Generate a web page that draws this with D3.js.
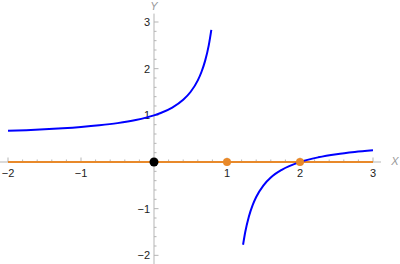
<!DOCTYPE html>
<html><head><meta charset="utf-8">
<script src="https://cdn.jsdelivr.net/npm/d3@7"></script>
<style>html,body{margin:0;padding:0;background:#fff;}svg{display:block;}</style>
</head><body><svg id="c" width="400" height="264"></svg>
<script>
// Data
const leftX = [-2, -1.75, -1.5, -1.25, -1, -0.75, -0.5, -0.25, 0, 0.1, 0.25, 0.4, 0.5, 0.6, 0.65, 0.7, 0.75, 0.785];
const leftY = [0.667, 0.682, 0.7, 0.722, 0.75, 0.786, 0.833, 0.9, 1, 1.056, 1.167, 1.333, 1.5, 1.75, 1.929, 2.167, 2.5, 2.83];
const rightX = [1.22, 1.25, 1.3, 1.35, 1.4, 1.5, 1.6, 1.75, 2, 2.25, 2.5, 2.75, 3];
const rightY = [-1.773, -1.5, -1.167, -0.929, -0.75, -0.5, -0.333, -0.167, 0, 0.1, 0.167, 0.214, 0.25];
const segmentX = [-2, 3];
const orangePointsX = [1, 2];
const blackPointX = [0];
const xTicks = [-2, -1, 1, 2, 3];
const yTicks = [-2, -1, 1, 2, 3];
const xLabel = "X", yLabel = "Y";

const svg = d3.select("#c");
const x = d3.scaleLinear().domain([-2, 3]).range([8, 373]);
const y = d3.scaleLinear().domain([0, 3]).range([162, 22]);
const axisCol = "#b5b5b5";
const orange = "#e8892a";

// axes lines
svg.append("line").attr("x1", 0).attr("x2", x(3.11)).attr("y1", y(0)).attr("y2", y(0))
  .attr("stroke", axisCol).attr("stroke-width", 1);
svg.append("line").attr("x1", x(0)).attr("x2", x(0)).attr("y1", y(3.18)).attr("y2", 264)
  .attr("stroke", axisCol).attr("stroke-width", 1);

// ticks (minor every 0.2)
const xMinor = d3.range(-2, 3.001, 0.2).map(v => +v.toFixed(2)).filter(v => Math.abs(v) > 1e-9);
svg.append("g").selectAll("line").data(xMinor).join("line")
  .attr("x1", d => x(d)).attr("x2", d => x(d))
  .attr("y1", y(0)).attr("y2", d => y(0) - (Math.abs(d - Math.round(d)) < 1e-9 ? 4.5 : 2.5))
  .attr("stroke", axisCol);
const yMinor = d3.range(-2, 3.001, 0.2).map(v => +v.toFixed(2)).filter(v => Math.abs(v) > 1e-9);
svg.append("g").selectAll("line").data(yMinor).join("line")
  .attr("y1", d => y(d)).attr("y2", d => y(d))
  .attr("x1", x(0)).attr("x2", d => x(0) + (Math.abs(d - Math.round(d)) < 1e-9 ? 4.5 : 2.5))
  .attr("stroke", axisCol);

const fmt = d => d < 0 ? "\u2212" + Math.abs(d) : String(d);
svg.append("g").selectAll("text").data(xTicks).join("text")
  .attr("x", d => x(d)).attr("y", y(0) + 15)
  .attr("text-anchor", "middle").attr("font-family", "Liberation Sans, Arial, sans-serif")
  .attr("font-size", 11).attr("fill", "#222").text(fmt);
svg.append("g").selectAll("text").data(yTicks).join("text")
  .attr("x", x(0) - 4).attr("y", d => y(d) + 4)
  .attr("text-anchor", "end").attr("font-family", "Liberation Sans, Arial, sans-serif")
  .attr("font-size", 11).attr("fill", "#222").text(fmt);

svg.append("text").attr("x", 395).attr("y", y(0) + 3).attr("text-anchor", "middle")
  .attr("font-family", "Liberation Sans, Arial, sans-serif").attr("font-style", "italic")
  .attr("font-size", 11).attr("fill", "#999").text(xLabel);
svg.append("text").attr("x", x(0)).attr("y", 10).attr("text-anchor", "middle")
  .attr("font-family", "Liberation Sans, Arial, sans-serif").attr("font-style", "italic")
  .attr("font-size", 11).attr("fill", "#999").text(yLabel);

// orange segment along the x axis
svg.append("line").attr("x1", x(segmentX[0])).attr("x2", x(segmentX[1]))
  .attr("y1", y(0)).attr("y2", y(0)).attr("stroke", orange).attr("stroke-width", 2);

// blue curve branches
const ln = d3.line().x(d => x(d[0])).y(d => y(d[1])).curve(d3.curveMonotoneX);
[[leftX, leftY], [rightX, rightY]].forEach(([xs, ys]) => {
  svg.append("path").datum(xs.map((v, i) => [v, ys[i]]))
    .attr("d", ln).attr("fill", "none").attr("stroke", "#0000ff").attr("stroke-width", 2);
});

// points
svg.append("g").selectAll("circle").data(orangePointsX).join("circle")
  .attr("cx", d => x(d)).attr("cy", y(0)).attr("r", 4).attr("fill", orange);
svg.append("g").selectAll("circle").data(blackPointX).join("circle")
  .attr("cx", d => x(d)).attr("cy", y(0)).attr("r", 4.5).attr("fill", "#000");
</script></body></html>
